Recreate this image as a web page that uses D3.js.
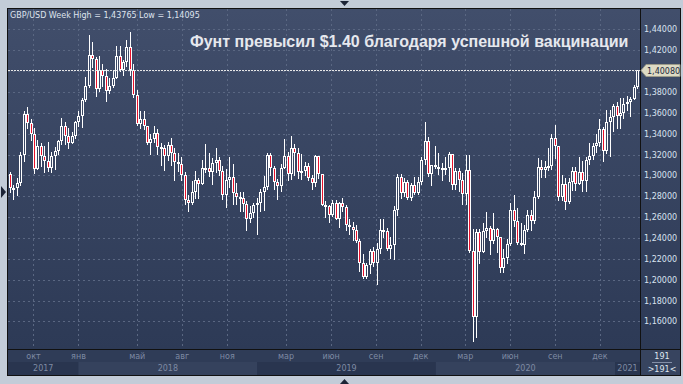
<!DOCTYPE html>
<html>
<head>
<meta charset="utf-8">
<script src="https://cdn.jsdelivr.net/npm/d3@7/dist/d3.min.js"></script>
<style>
  body { margin: 0; background: #c3ccd8; }
  svg { display: block; }
  .small { font-family: "DejaVu Sans", sans-serif; font-size: 8px; }
</style>
</head>
<body>
<svg width="683" height="384"></svg>
<script>
// weekly GBP/USD bars, first Monday -> last Monday
const firstWeek = new Date(2017, 7, 14);
const lastWeek = new Date(2021, 1, 15);

const opens = [
  1.3010,1.2877,1.2880,1.2925,1.3200,1.3590,1.3500,1.3400,1.3065,1.3285,
  1.3190,1.3135,1.3075,1.3190,1.3230,1.3330,1.3475,1.3380,1.3315,1.3375,
  1.3510,1.3565,1.3720,1.3860,1.4150,1.4120,1.3825,1.4010,1.3950,1.3810,
  1.3860,1.3935,1.4140,1.4015,1.4085,1.4235,1.4010,1.3770,1.3495,1.3540,
  1.3470,1.3310,1.3350,1.3405,1.3270,1.3265,1.3190,1.3290,1.3215,1.3130,
  1.3110,1.3000,1.2765,1.2740,1.2840,1.2955,1.2920,1.3070,1.3075,1.3035,
  1.3120,1.3150,1.3045,1.2810,1.2960,1.2980,1.2835,1.2795,1.2785,1.2730,
  1.2585,1.2640,1.2720,1.2740,1.2840,1.2885,1.3200,1.3075,1.2940,1.2895,
  1.3075,1.3190,1.3010,1.3260,1.3210,1.3035,1.3045,1.3090,1.2975,1.2925,
  1.3185,1.3010,1.2720,1.2705,1.2625,1.2740,1.2585,1.2740,1.2695,1.2520,
  1.2505,1.2475,1.2370,1.2165,1.2030,1.2145,1.2280,1.2160,1.2290,1.2475,
  1.2465,1.2290,1.2330,1.2670,1.2985,1.2830,1.2935,1.2780,1.2905,1.2835,
  1.2935,1.3150,1.3325,1.3010,1.3100,1.3080,1.3060,1.3070,1.3075,1.3205,
  1.2905,1.3045,1.2960,1.2820,1.3050,1.2280,1.1645,1.2455,1.2270,1.2465,
  1.2495,1.2370,1.2490,1.2405,1.2115,1.2205,1.2345,1.2665,1.2560,1.2350,
  1.2335,1.2475,1.2620,1.2565,1.2790,1.3085,1.3055,1.3085,1.3090,1.3355,
  1.3280,1.2790,1.2920,1.2745,1.2940,1.3045,1.2915,1.3035,1.2945,1.3150,
  1.3190,1.3285,1.3315,1.3440,1.3230,1.3510,1.3560,1.3670,1.3565,1.3595,
  1.3685,1.3705,1.3735,1.3850
];
const highs = [
  1.3030,1.2906,1.2979,1.3225,1.3616,1.3657,1.3538,1.3455,1.3338,1.3315,
  1.3285,1.3322,1.3224,1.3269,1.3343,1.3549,1.3515,1.3458,1.3418,1.3523,
  1.3613,1.3744,1.3943,1.4345,1.4283,1.4139,1.4145,1.4071,1.4023,1.3929,
  1.4008,1.4245,1.4245,1.4109,1.4294,1.4377,1.4067,1.3819,1.3620,1.3617,
  1.3474,1.3396,1.3473,1.3447,1.3315,1.3293,1.3317,1.3363,1.3259,1.3216,
  1.3172,1.3033,1.2813,1.2943,1.3043,1.2978,1.3143,1.3298,1.3214,1.3168,
  1.3258,1.3175,1.3089,1.3061,1.3176,1.3108,1.2930,1.2838,1.2840,1.2750,
  1.2706,1.2734,1.2785,1.2867,1.2990,1.3218,1.3218,1.3094,1.2963,1.3108,
  1.3350,1.3224,1.3381,1.3300,1.3262,1.3208,1.3131,1.3120,1.3006,1.3200,
  1.3190,1.3013,1.2750,1.2720,1.2764,1.2765,1.2748,1.2783,1.2720,1.2580,
  1.2555,1.2521,1.2395,1.2250,1.2158,1.2297,1.2310,1.2349,1.2583,1.2582,
  1.2499,1.2411,1.2705,1.3012,1.3013,1.2977,1.2954,1.2928,1.2985,1.2985,
  1.3180,1.3515,1.3372,1.3070,1.3285,1.3214,1.3119,1.3172,1.3220,1.3208,
  1.3069,1.3070,1.3020,1.3200,1.3200,1.2485,1.2487,1.2487,1.2545,1.2647,
  1.2514,1.2644,1.2500,1.2410,1.2297,1.2393,1.2740,1.2813,1.2687,1.2540,
  1.2520,1.2670,1.2666,1.2848,1.3170,1.3145,1.3142,1.3267,1.3395,1.3482,
  1.3283,1.3007,1.2978,1.2979,1.3083,1.3081,1.3177,1.3140,1.3176,1.3313,
  1.3310,1.3398,1.3539,1.3460,1.3625,1.3624,1.3680,1.3703,1.3745,1.3744,
  1.3758,1.3750,1.3866,1.4015
];
const lows = [
  1.2843,1.2774,1.2816,1.2910,1.3140,1.3453,1.3338,1.3027,1.3060,1.3088,
  1.3036,1.3039,1.3035,1.3062,1.3209,1.3302,1.3305,1.3261,1.3306,1.3356,
  1.3476,1.3460,1.3713,1.3845,1.4039,1.3765,1.3810,1.3855,1.3711,1.3786,
  1.3850,1.3930,1.3998,1.3964,1.4053,1.3966,1.3747,1.3486,1.3450,1.3448,
  1.3305,1.3204,1.3320,1.3205,1.3101,1.3049,1.3145,1.3101,1.2958,1.3042,
  1.2956,1.2723,1.2662,1.2730,1.2785,1.2785,1.2920,1.3033,1.2998,1.2921,
  1.3036,1.3008,1.2772,1.2695,1.2885,1.2723,1.2723,1.2662,1.2660,1.2477,
  1.2550,1.2602,1.2440,1.2657,1.2669,1.2866,1.3005,1.2865,1.2772,1.2853,
  1.3068,1.2960,1.2962,1.3004,1.2977,1.2963,1.3001,1.2956,1.2866,1.2903,
  1.2979,1.2714,1.2605,1.2558,1.2611,1.2581,1.2506,1.2660,1.2478,1.2439,
  1.2382,1.2365,1.2080,1.2014,1.2016,1.2065,1.2132,1.1959,1.2258,1.2412,
  1.2283,1.2205,1.2195,1.2620,1.2785,1.2803,1.2770,1.2766,1.2823,1.2822,
  1.2914,1.3107,1.2997,1.2905,1.3070,1.3011,1.2956,1.3010,1.2951,1.2872,
  1.2870,1.2848,1.2725,1.2726,1.2262,1.1409,1.1451,1.2164,1.2262,1.2406,
  1.2247,1.2349,1.2266,1.2076,1.2076,1.2163,1.2337,1.2512,1.2342,1.2333,
  1.2252,1.2466,1.2480,1.2540,1.2780,1.2981,1.2985,1.3054,1.3063,1.3166,
  1.2763,1.2769,1.2676,1.2740,1.2863,1.2864,1.2914,1.2855,1.2854,1.3106,
  1.3154,1.3226,1.3285,1.3134,1.3219,1.3188,1.3429,1.3451,1.3452,1.3550,
  1.3625,1.3566,1.3731,1.3840
];
const closes = [
  1.2877,1.2880,1.2925,1.3200,1.3590,1.3500,1.3400,1.3065,1.3285,1.3190,
  1.3135,1.3075,1.3190,1.3230,1.3330,1.3475,1.3380,1.3315,1.3375,1.3510,
  1.3565,1.3720,1.3860,1.4150,1.4120,1.3825,1.4010,1.3950,1.3810,1.3860,
  1.3935,1.4140,1.4015,1.4085,1.4235,1.4010,1.3770,1.3495,1.3540,1.3470,
  1.3310,1.3350,1.3405,1.3270,1.3265,1.3190,1.3290,1.3215,1.3130,1.3110,
  1.3000,1.2765,1.2740,1.2840,1.2955,1.2920,1.3070,1.3075,1.3035,1.3120,
  1.3150,1.3045,1.2810,1.2960,1.2980,1.2835,1.2795,1.2785,1.2730,1.2585,
  1.2640,1.2720,1.2740,1.2840,1.2885,1.3200,1.3075,1.2940,1.2895,1.3075,
  1.3190,1.3010,1.3260,1.3210,1.3035,1.3045,1.3090,1.2975,1.2925,1.3185,
  1.3010,1.2720,1.2705,1.2625,1.2740,1.2585,1.2740,1.2695,1.2520,1.2505,
  1.2475,1.2370,1.2165,1.2030,1.2145,1.2280,1.2160,1.2290,1.2475,1.2465,
  1.2290,1.2330,1.2670,1.2985,1.2830,1.2935,1.2780,1.2905,1.2835,1.2935,
  1.3150,1.3325,1.3010,1.3100,1.3080,1.3060,1.3070,1.3075,1.3205,1.2905,
  1.3045,1.2960,1.2820,1.3050,1.2280,1.1645,1.2455,1.2270,1.2465,1.2495,
  1.2370,1.2490,1.2405,1.2115,1.2205,1.2345,1.2665,1.2560,1.2350,1.2335,
  1.2475,1.2620,1.2565,1.2790,1.3085,1.3055,1.3085,1.3090,1.3355,1.3280,
  1.2790,1.2920,1.2745,1.2940,1.3045,1.2915,1.3035,1.2945,1.3150,1.3190,
  1.3285,1.3315,1.3440,1.3230,1.3510,1.3560,1.3670,1.3565,1.3595,1.3685,
  1.3705,1.3735,1.3850,1.4008
];

const priceTicks = [1.16,1.18,1.20,1.22,1.24,1.26,1.28,1.30,1.32,1.34,1.36,1.38,1.40,1.42,1.44];
const monthTicks = ['2017-10','2018-01','2018-05','2018-08','2018-11','2019-03','2019-06',
  '2019-09','2019-12','2020-03','2020-06','2020-09','2020-12'];
const monthNames = ['янв','фев','мар','апр','май','июн','июл','авг','сен','окт','ноя','дек'];
const years = [2017, 2018, 2019, 2020, 2021];
const lastPrice = 1.40080;
const headline = 'Фунт превысил $1.40 благодаря успешной вакцинации';
const infoLine = 'GBP/USD Week High = 1,43765 Low = 1,14095';

const svg = d3.select('svg');
const plot = { left: 8, right: 640, top: 9, bottom: 349 };

const x = d3.scaleTime()
  .domain([new Date(2017, 7, 10), new Date(2021, 1, 21)])
  .range([plot.left, plot.right]);
const y = d3.scaleLinear()
  .domain([1.1336, 1.4595])
  .range([plot.bottom, plot.top]);

const weeks = d3.timeMonday.range(firstWeek, d3.timeDay.offset(lastWeek, 1));
const bars = weeks.map((d, i) => ({ date: d, o: opens[i], h: highs[i], l: lows[i], c: closes[i] }));

const fmt = v => d3.format('.5f')(v).replace('.', ',');

// background gradient, reused for hollow candle bodies
const defs = svg.append('defs');
const grad = defs.append('linearGradient').attr('id', 'bg')
  .attr('gradientUnits', 'userSpaceOnUse')
  .attr('x1', 0).attr('x2', 0).attr('y1', plot.top).attr('y2', plot.bottom);
grad.append('stop').attr('offset', 0).attr('stop-color', '#414e6b');
grad.append('stop').attr('offset', 1).attr('stop-color', '#2d3a56');
defs.append('clipPath').attr('id', 'clip').append('rect')
  .attr('x', plot.left).attr('y', plot.top)
  .attr('width', plot.right - plot.left).attr('height', plot.bottom - plot.top);

svg.append('rect').attr('width', 683).attr('height', 384).attr('fill', '#c3ccd8');
svg.append('rect').attr('x', 7).attr('y', 8).attr('width', 674).attr('height', 368).attr('fill', '#111');
svg.append('rect').attr('x', plot.left).attr('y', plot.top)
  .attr('width', plot.right - plot.left).attr('height', plot.bottom - plot.top)
  .attr('fill', 'url(#bg)');
svg.append('rect').attr('x', plot.right + 1).attr('y', plot.top)
  .attr('width', 39).attr('height', plot.bottom - plot.top)
  .attr('fill', 'url(#bg)');

// bottom axis strip
svg.append('rect').attr('x', plot.left).attr('y', plot.bottom + 1)
  .attr('width', plot.right - plot.left).attr('height', 25).attr('fill', '#2f3c57');
svg.append('rect').attr('x', plot.right + 1).attr('y', plot.bottom + 1)
  .attr('width', 39).attr('height', 25).attr('fill', '#37445f');

const yearBand = svg.append('g');
years.forEach((yr, i) => {
  const x0 = Math.max(plot.left, x(new Date(yr, 0, 1)));
  const x1 = Math.min(plot.right, x(new Date(yr + 1, 0, 1)));
  yearBand.append('rect').attr('x', x0).attr('y', 362).attr('width', x1 - x0).attr('height', 13)
    .attr('fill', i % 2 ? '#35425d' : '#29354f');
  yearBand.append('text').attr('class', 'small')
    .attr('x', (x0 + x1) / 2).attr('y', 368.5)
    .attr('text-anchor', 'middle').attr('dominant-baseline', 'middle')
    .attr('fill', '#7e8aa3').attr('font-size', 9).text(yr);
});

// grid
const grid = svg.append('g').attr('clip-path', 'url(#clip)')
  .attr('stroke', '#5a6782').attr('stroke-dasharray', '2,3');
grid.selectAll('.h').data(priceTicks).join('line')
  .attr('x1', plot.left).attr('x2', plot.right)
  .attr('y1', d => Math.round(y(d)) + 0.5).attr('y2', d => Math.round(y(d)) + 0.5);
const monthDates = monthTicks.map(d3.timeParse('%Y-%m'));
grid.selectAll('.v').data(monthDates).join('line')
  .attr('x1', d => Math.round(x(d)) + 0.5).attr('x2', d => Math.round(x(d)) + 0.5)
  .attr('y1', plot.top).attr('y2', plot.bottom);

svg.append('g').selectAll('text').data(monthDates).join('text')
  .attr('class', 'small')
  .attr('x', d => x(d)).attr('y', 356.5)
  .attr('text-anchor', 'middle').attr('dominant-baseline', 'middle')
  .attr('fill', '#7e8aa3').attr('font-size', 9)
  .text(d => monthNames[d.getMonth()]);

// right price axis
svg.append('g').selectAll('text').data(priceTicks.filter(d => d !== 1.40)).join('text')
  .attr('class', 'small')
  .attr('x', 644).attr('y', d => y(d) + 0.5)
  .attr('dominant-baseline', 'middle')
  .attr('fill', '#d9e2ef')
  .text(fmt);

// candles
const cg = svg.append('g').attr('clip-path', 'url(#clip)');
bars.forEach(d => {
  const cx = Math.round(x(d.date));
  const top = Math.round(y(Math.max(d.o, d.c)));
  const bot = Math.round(y(Math.min(d.o, d.c)));
  cg.append('line')
    .attr('x1', cx + 0.5).attr('x2', cx + 0.5)
    .attr('y1', Math.round(y(d.h))).attr('y2', Math.round(y(d.l)) + 1)
    .attr('stroke', '#fff');
  cg.append('rect')
    .attr('x', cx - 0.5).attr('y', top + 0.5)
    .attr('width', 2).attr('height', Math.max(bot - top - 1, 1))
    .attr('fill', d.c < d.o ? '#e8122c' : 'url(#bg)')
    .attr('stroke', '#fff');
});

// last price line and tag
const ly = Math.round(y(lastPrice)) + 0.5;
svg.append('line').attr('x1', plot.left).attr('x2', plot.right).attr('y1', ly).attr('y2', ly)
  .attr('stroke', '#e6e6e6').attr('stroke-dasharray', '2,1');
svg.append('path')
  .attr('d', `M641,${ly} L646,${ly - 6} L680,${ly - 6} L680,${ly + 6} L646,${ly + 6} Z`)
  .attr('fill', '#dddac4').attr('stroke', '#9c9b8a');
svg.append('text').attr('class', 'small')
  .attr('x', 647).attr('y', ly + 0.5).attr('dominant-baseline', 'middle')
  .attr('fill', '#1f2a40').text(fmt(lastPrice));

// texts
svg.append('text').attr('class', 'small')
  .attr('x', 10).attr('y', 15.5).attr('dominant-baseline', 'middle')
  .attr('fill', '#dfe4ee').text(infoLine);
svg.append('text')
  .attr('x', 190).attr('y', 47)
  .attr('font-family', '"Liberation Sans", Arial, sans-serif')
  .attr('font-weight', 'bold').attr('font-size', 16)
  .attr('fill', '#e6e8ee').text(headline);

// bar counter box
svg.append('text').attr('class', 'small').attr('x', 662).attr('y', 356.5)
  .attr('text-anchor', 'middle').attr('dominant-baseline', 'middle')
  .attr('fill', '#dfe6f0').text(bars.length + 7);
svg.append('line').attr('x1', 652).attr('x2', 672).attr('y1', 362.5).attr('y2', 362.5)
  .attr('stroke', '#8490a8');
svg.append('text').attr('class', 'small').attr('x', 662).attr('y', 369.5)
  .attr('text-anchor', 'middle').attr('dominant-baseline', 'middle')
  .attr('fill', '#dfe6f0').text('>' + (bars.length + 7) + '<');

// frame markers
svg.append('path').attr('d', 'M340,1 L349,1 L344.5,6 Z').attr('fill', '#1c2436');
svg.append('path').attr('d', 'M340,384 L349,384 L344.5,379 Z').attr('fill', '#1c2436');
svg.append('path').attr('d', 'M1,186 L6,192 L1,198 Z').attr('fill', '#1c2436');
</script>
</body>
</html>
